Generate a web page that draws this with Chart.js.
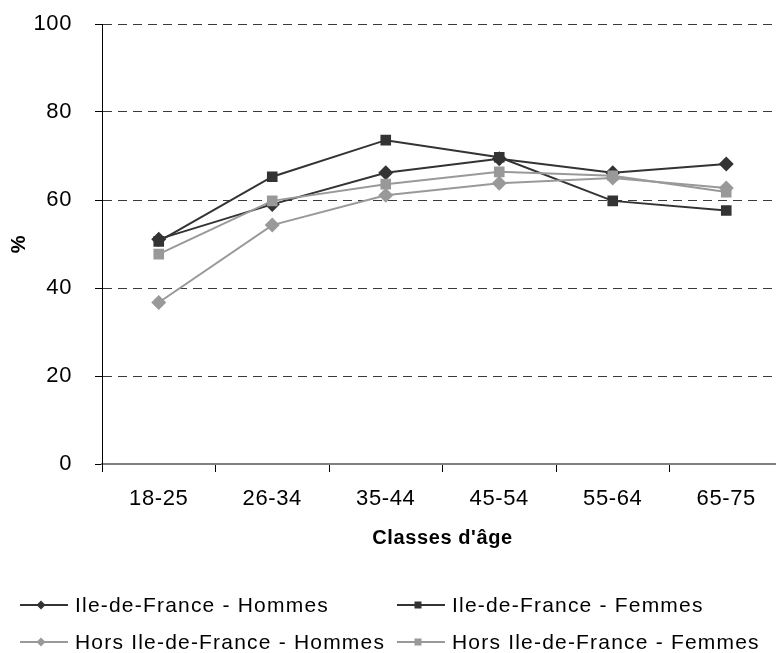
<!DOCTYPE html>
<html>
<head>
<meta charset="utf-8">
<script src="https://cdn.jsdelivr.net/npm/chart.js@4/dist/chart.umd.min.js"></script>
<style>
  html, body { margin: 0; padding: 0; background: #fff; overflow: hidden; }
  #wrap { position: relative; width: 800px; height: 653px; }
</style>
</head>
<body>
<div id="wrap"><canvas id="c"></canvas></div>
<script>
// Age classes on the x axis
const categories = ['18-25', '26-34', '35-44', '45-54', '55-64', '65-75'];

// Percentages per series
const idfHommes  = [51.1, 59.0, 66.2, 69.4, 66.2, 68.2];
const idfFemmes  = [50.6, 65.3, 73.6, 69.7, 59.8, 57.6];
const horsHommes = [36.7, 54.3, 61.1, 63.8, 65.0, 62.7];
const horsFemmes = [47.7, 59.8, 63.6, 66.4, 65.5, 61.8];

// Series names
const seriesNames = [
  'Ile-de-France - Hommes',
  'Ile-de-France - Femmes',
  'Hors Ile-de-France - Hommes',
  'Hors Ile-de-France - Femmes'
];

// Y axis range
const yMin = 0, yMax = 100, yStep = 20;

const DARK = '#333333';
const GREY = '#999999';
const FONT = '"Liberation Sans", Arial, sans-serif';

function series(label, data, color, style, radius, order) {
  return {
    label, data,
    borderColor: color,
    backgroundColor: color,
    borderWidth: 2,
    pointStyle: style,
    pointRadius: radius,
    pointHoverRadius: radius,
    pointBorderWidth: 0,
    pointBackgroundColor: color,
    tension: 0,
    order
  };
}

// Slightly open letter spacing for all canvas text
const textSpacing = {
  id: 'textSpacing',
  beforeDraw(chart) {
    if ('letterSpacing' in chart.ctx) chart.ctx.letterSpacing = '0.6px';
  }
};

// Two-column legend drawn under the plot with line + marker samples
const gridLegend = {
  id: 'gridLegend',
  afterDraw(chart) {
    const ctx = chart.ctx;
    const cols = [20, 397];
    const rows = [605, 642];
    chart.data.datasets.forEach((ds, i) => {
      const x = cols[i % 2];
      const y = rows[Math.floor(i / 2)];
      ctx.save();
      ctx.strokeStyle = ds.borderColor;
      ctx.lineWidth = 2;
      ctx.beginPath();
      ctx.moveTo(x, y);
      ctx.lineTo(x + 48, y);
      ctx.stroke();
      ctx.fillStyle = ds.borderColor;
      const mx = x + 21;
      ctx.beginPath();
      if (ds.pointStyle === 'rectRot') {
        const r = 4.5;
        ctx.moveTo(mx, y - r);
        ctx.lineTo(mx + r, y);
        ctx.lineTo(mx, y + r);
        ctx.lineTo(mx - r, y);
        ctx.closePath();
      } else {
        const h = 3.5;
        ctx.rect(mx - h, y - h, 2 * h, 2 * h);
      }
      ctx.fill();
      ctx.fillStyle = '#000';
      ctx.font = '21px ' + FONT;
      if ('letterSpacing' in ctx) ctx.letterSpacing = '1.2px';
      ctx.textBaseline = 'middle';
      ctx.textAlign = 'left';
      ctx.fillText(ds.label, x + 55, y + 1);
      ctx.restore();
    });
  }
};

new Chart(document.getElementById('c'), {
  type: 'line',
  data: {
    labels: categories,
    datasets: [
      series(seriesNames[0], idfHommes, DARK, 'rectRot', 7.5, 4),
      series(seriesNames[1], idfFemmes, DARK, 'rect', 7.5, 3),
      series(seriesNames[2], horsHommes, GREY, 'rectRot', 7.5, 2),
      series(seriesNames[3], horsFemmes, GREY, 'rect', 7.5, 1)
    ]
  },
  options: {
    responsive: true,
    maintainAspectRatio: false,
    animation: false,
    events: [],
    layout: { padding: { left: 0, top: 24, right: 17, bottom: 99 } },
    plugins: {
      legend: { display: false },
      tooltip: { enabled: false }
    },
    scales: {
      x: {
        offset: true,
        grid: {
          offset: true,
          drawOnChartArea: false,
          drawTicks: true,
          tickLength: 8,
          tickColor: '#000',
          tickWidth: 1
        },
        border: { display: true, color: '#808080', width: 2 },
        ticks: {
          color: '#000',
          padding: 14,
          maxRotation: 0,
          autoSkip: false,
          font: { family: FONT, size: 22 }
        },
        title: {
          display: true,
          text: "Classes d'âge",
          color: '#000',
          font: { family: FONT, size: 20, weight: 'bold' },
          padding: { top: 0, bottom: 4 }
        },
        afterFit(scale) { scale.height = 90; }
      },
      y: {
        min: yMin,
        max: yMax,
        grid: {
          color: (c) => (c.tick && c.tick.value === 0) ? 'rgba(0,0,0,0)' : '#3a3a3a',
          lineWidth: 1,
          drawTicks: true,
          tickLength: 7,
          tickColor: '#000',
          tickWidth: 1
        },
        border: { display: true, color: '#000', width: 1, dash: [9, 6] },
        ticks: {
          stepSize: yStep,
          color: '#000',
          padding: 23,
          font: { family: FONT, size: 22 }
        },
        title: {
          display: true,
          text: '%',
          color: '#000',
          font: { family: FONT, size: 20, weight: 'bold' },
          padding: { top: 7, bottom: 0 }
        },
        afterFit(scale) {
          scale.width = 102;
          scale.paddingTop = 0;
          scale.paddingBottom = 0;
        }
      }
    }
  },
  plugins: [textSpacing, gridLegend]
});
</script>
</body>
</html>
